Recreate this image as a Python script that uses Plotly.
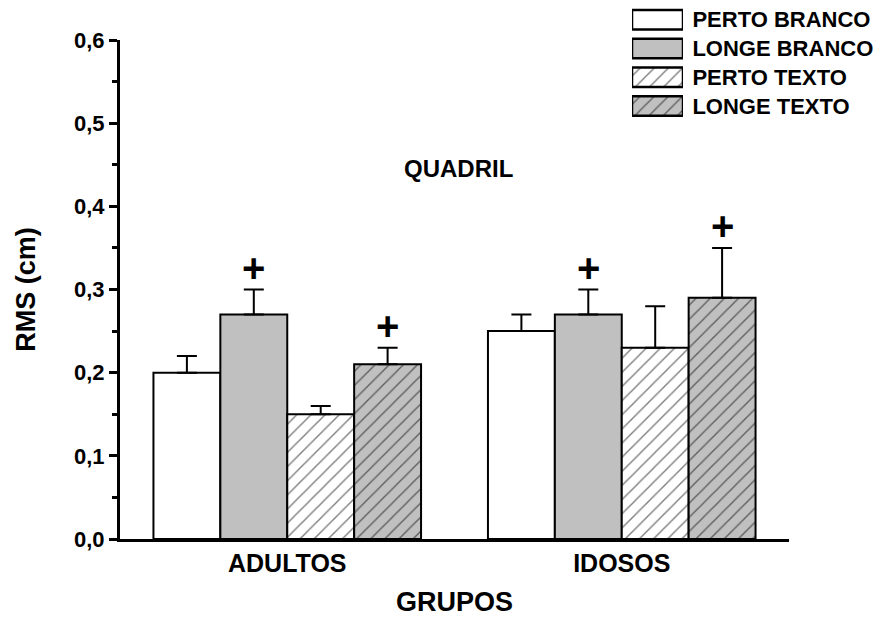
import plotly.graph_objects as go

groups = ["ADULTOS", "IDOSOS"]
series_names = ["PERTO BRANCO", "LONGE BRANCO", "PERTO TEXTO", "LONGE TEXTO"]
perto_branco = [0.20, 0.25]
longe_branco = [0.27, 0.27]
perto_texto = [0.15, 0.23]
longe_texto = [0.21, 0.29]
err_perto_branco = [0.02, 0.02]
err_longe_branco = [0.03, 0.03]
err_perto_texto = [0.01, 0.05]
err_longe_texto = [0.02, 0.06]
plus_perto_branco = [False, False]
plus_longe_branco = [True, True]
plus_perto_texto = [False, False]
plus_longe_texto = [True, True]
y_ticks = [0.0, 0.1, 0.2, 0.3, 0.4, 0.5, 0.6]

values = [perto_branco, longe_branco, perto_texto, longe_texto]
errors = [err_perto_branco, err_longe_branco, err_perto_texto, err_longe_texto]
pluses = [plus_perto_branco, plus_longe_branco, plus_perto_texto, plus_longe_texto]

GRAY = "#c0c0c0"
styles = [
    dict(bg="white", shape=""),
    dict(bg=GRAY, shape=""),
    dict(bg="white", shape="/"),
    dict(bg=GRAY, shape="/"),
]
FONT = "Liberation Sans"
BARGAP = 0.2

fig = go.Figure()
xg = list(range(len(groups)))
for name, vals, errs, st in zip(series_names, values, errors, styles):
    fig.add_trace(go.Bar(
        x=xg, y=vals, name=name,
        marker=dict(color=st["bg"], line=dict(color="black", width=2),
                    pattern=dict(shape=st["shape"], fgcolor="black", bgcolor=st["bg"],
                                 size=10, solidity=0.14)),
        error_y=dict(type="data", symmetric=False, array=errs,
                     arrayminus=[0] * len(errs), color="black", thickness=2, width=10),
        showlegend=False,
    ))

# legend swatches drawn as bars on a small overlay axis
for i, (name, st) in enumerate(zip(series_names, styles)):
    fig.add_trace(go.Bar(
        x=[1], y=[name], orientation="h", xaxis="x2", yaxis="y2",
        marker=dict(color=st["bg"], line=dict(color="black", width=2.5),
                    pattern=dict(shape=st["shape"], fgcolor="black", bgcolor=st["bg"],
                                 size=10, solidity=0.14)),
        width=0.68, showlegend=False, hoverinfo="skip",
    ))

n = len(series_names)
slot = (1 - BARGAP) / n
annotations = []
for i in range(n):
    for g in range(len(groups)):
        if pluses[i][g]:
            annotations.append(dict(
                x=g + (i - (n - 1) / 2) * slot, y=values[i][g] + errors[i][g],
                xref="x", yref="y", text="+", showarrow=False,
                xanchor="center", yanchor="middle", yshift=22,
                font=dict(family=FONT, size=40, color="black", weight="bold"),
            ))
annotations.append(dict(
    x=(458 - 120) / 750, y=(539 - 168) / 535, xref="paper", yref="paper", text="QUADRIL",
    xanchor="center", yanchor="middle",
    showarrow=False, font=dict(family=FONT, size=24, color="black", weight="bold"),
))

fig.update_layout(
    width=876, height=617,
    margin=dict(l=120, r=6, t=4, b=78, autoexpand=False),
    paper_bgcolor="white", plot_bgcolor="white",
    barmode="group", bargap=BARGAP, bargroupgap=0,
    separators=",.",
    annotations=annotations,
    xaxis=dict(
        domain=[0, (789 - 120) / 750], range=[-0.5, 1.5], automargin=False,
        tickvals=xg, ticktext=groups, ticks="",
        showline=True, linewidth=3, linecolor="black", showgrid=False, zeroline=False,
        tickfont=dict(family=FONT, size=25, color="black", weight="bold"),
        title=dict(text="GRUPOS", standoff=20,
                   font=dict(family=FONT, size=27, color="black", weight="bold")),
    ),
    yaxis=dict(
        domain=[0, (539 - 40) / 535], range=[0, 0.6], automargin=False,
        tickvals=y_ticks, tickformat=".1f",
        ticks="outside", ticklen=8, tickwidth=3, tickcolor="black",
        minor=dict(dtick=0.05, ticks="outside", ticklen=5, tickwidth=3, tickcolor="black"),
        showline=True, linewidth=3, linecolor="black", showgrid=False, zeroline=False,
        tickfont=dict(family=FONT, size=22, color="black", weight="bold"),
        title=dict(text="RMS (cm)", standoff=31,
                   font=dict(family=FONT, size=27, color="black", weight="bold")),
    ),
    xaxis2=dict(domain=[(632 - 120) / 750, (683 - 120) / 750], range=[0, 1],
                anchor="y2", visible=False, fixedrange=True, automargin=False),
    yaxis2=dict(domain=[(539 - 120.3) / 535, (539 - 5.4) / 535], anchor="x2",
                side="right", categoryorder="array", categoryarray=series_names,
                autorange="reversed", showline=False, showgrid=False, zeroline=False,
                automargin=False,
                ticks="outside", ticklen=4, tickcolor="rgba(0,0,0,0)",
                tickfont=dict(family=FONT, size=22, color="black", weight="bold")),
)

fig.write_html("out.html")
